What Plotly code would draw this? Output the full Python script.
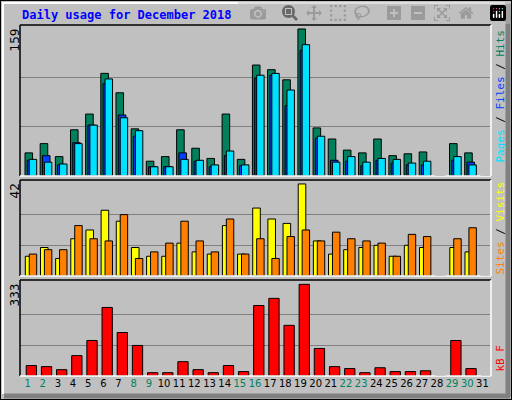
import plotly.graph_objects as go

days = list(range(1, 32))
hits  = [25,35,21,50,67,111,90,51,16,21,50,30,19,67,18,120,115,104,159,52,40,28,25,40,22,24,26,0,35,25,0]
files = [17,22,12,36,55,100,66,43,10,10,25,16,10,22,11,106,109,76,136,41,17,16,11,17,14,12,12,0,17,15,0]
pages = [18,15,13,35,55,105,63,49,10,10,18,17,12,27,12,109,111,93,142,43,15,21,15,19,18,14,16,0,21,12,0]
visits = [9,13,8,17,21,30,25,13,9,9,15,11,10,23,10,31,26,24,42,16,10,12,13,14,9,14,13,0,13,11,0]
sites  = [10,12,12,23,17,16,28,8,11,15,25,16,11,26,10,17,8,18,21,16,20,17,16,15,9,19,18,0,17,22,0]
kbytes = [38,34,23,74,129,249,158,111,12,12,52,23,12,38,16,256,282,184,333,100,34,27,12,30,16,16,19,0,129,27,0]
weekend = {1,2,8,9,15,16,22,23,29,30}

W, H = 512, 400
def py(y): return 1 - y / H
def px(x): return x / W

fig = go.Figure()
def bar(y, color, off, wd, xa, ya):
    fig.add_trace(go.Bar(x=days, y=y, offset=off, width=wd, marker_color=color,
                         marker_line=dict(color="black", width=1), xaxis=xa, yaxis=ya,
                         showlegend=False, hoverinfo="skip"))

bar(hits, "#00805C", -0.17, 0.5, "x", "y")
bar(files, "#0040FF", -0.02, 0.5, "x", "y")
bar(pages, "#00E0FF", 0.11, 0.49, "x", "y")
bar(visits, "#FFFF00", -0.15, 0.5, "x2", "y2")
bar(sites, "#FF8000", 0.11, 0.49, "x2", "y2")
bar(kbytes, "#FF0000", -0.09, 0.68, "x3", "y3")

xd = [px(20), px(490)]
ticktext = [f'<span style="color:{"#00805C" if d in weekend else "black"}">{d}</span>' for d in days]
common_x = dict(range=[0.5, 31.5], domain=xd, showgrid=False, zeroline=False, showline=False)
fig.update_layout(
    width=W, height=H, margin=dict(l=0, r=0, t=0, b=0),
    paper_bgcolor="#C0C0C0", plot_bgcolor="#C0C0C0", barmode="overlay",
    font=dict(family="DejaVu Sans Mono", size=11, color="black"),
    xaxis=dict(**common_x, anchor="y", showticklabels=False),
    xaxis2=dict(**common_x, anchor="y2", showticklabels=False),
    xaxis3=dict(**common_x, anchor="y3", tickmode="array", tickvals=days, ticktext=ticktext,
                ticks="", tickangle=0, tickfont=dict(family="DejaVu Sans", size=10)),
)
def yax(mx, rng, dom):
    return dict(range=[0, rng], domain=dom, tickvals=[mx/3, 2*mx/3], showticklabels=False,
                gridcolor="#808080", gridwidth=1, zeroline=False, ticks="")
fig.update_layout(
    yaxis=yax(159, 163.3, [py(176), py(25)]),
    yaxis2=yax(42, 43.8, [py(276), py(180)]),
    yaxis3=yax(333, 348.7, [py(376), py(280)]),
)

shapes = [
    dict(type="rect", xref="paper", yref="paper", x0=0, x1=1, y0=0, y1=1, line=dict(color="black", width=2)),
    dict(type="line", xref="paper", yref="paper", x0=px(2), x1=px(505), y0=py(3), y1=py(3), line=dict(color="white", width=2)),
    dict(type="line", xref="paper", yref="paper", x0=px(3), x1=px(3), y0=py(3), y1=py(394), line=dict(color="white", width=2)),
    dict(type="line", xref="paper", yref="paper", x0=px(508), x1=px(508), y0=py(4), y1=py(397), line=dict(color="#808080", width=5)),
    dict(type="line", xref="paper", yref="paper", x0=px(4), x1=px(510), y0=py(396), y1=py(396), line=dict(color="#808080", width=5)),
]
for top, bot in [(25, 176), (180, 276), (280, 376)]:
    shapes += [
        dict(type="line", xref="paper", yref="paper", x0=px(20), x1=px(491), y0=py(top), y1=py(top), line=dict(color="black", width=1.5)),
        dict(type="line", xref="paper", yref="paper", x0=px(20), x1=px(20), y0=py(top), y1=py(bot), line=dict(color="black", width=1.5)),
        dict(type="line", xref="paper", yref="paper", x0=px(20), x1=px(491), y0=py(bot), y1=py(bot), line=dict(color="white", width=1.5)),
        dict(type="line", xref="paper", yref="paper", x0=px(491), x1=px(491), y0=py(top), y1=py(bot), line=dict(color="white", width=1.5)),
    ]
fig.update_layout(shapes=shapes)

ann = [
    dict(x=px(20), y=py(15), text="<b>Daily usage for December 2018</b>", xanchor="left", yanchor="middle",
         font=dict(color="#0000FF", size=12, family="DejaVu Sans Mono")),
    dict(x=px(14), y=py(27), text="159", textangle=-90, xanchor="center", yanchor="top", font=dict(size=12, family="DejaVu Sans")),
    dict(x=px(14), y=py(182), text="42", textangle=-90, xanchor="center", yanchor="top", font=dict(size=12, family="DejaVu Sans")),
    dict(x=px(14), y=py(282), text="333", textangle=-90, xanchor="center", yanchor="top", font=dict(size=12, family="DejaVu Sans")),
    dict(x=px(500), y=py(28), textangle=-90, xanchor="center", yanchor="top",
         text='<span style="color:#00E0FF">Pages</span> / <span style="color:#0040FF">Files</span> / <span style="color:#00805C">Hits</span>'),
    dict(x=px(500), y=py(180), textangle=-90, xanchor="center", yanchor="top",
         text='<span style="color:#FF8000">Sites</span> / <span style="color:#FFFF00">Visits</span>'),
    dict(x=px(500), y=py(374), textangle=-90, xanchor="center", yanchor="bottom",
         text='<span style="color:#FF0000">kB F</span>'),
]
for a in ann:
    a.update(xref="paper", yref="paper", showarrow=False)
fig.update_layout(annotations=ann)

fig.write_html("out.html", post_script="document.body.style.margin='0';document.body.style.overflow='hidden';")
